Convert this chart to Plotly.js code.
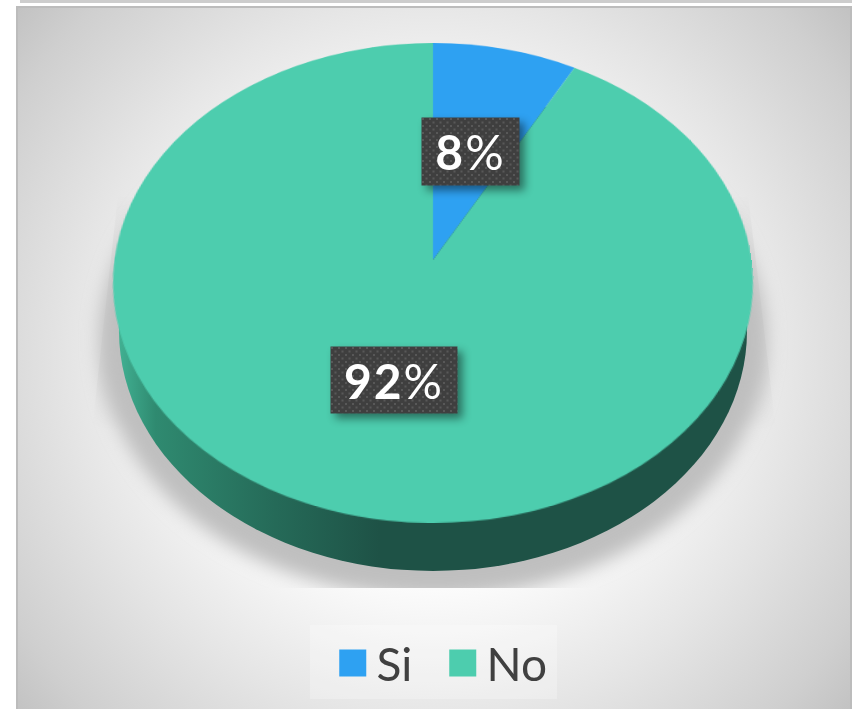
<!DOCTYPE html>
<html>
<head>
<meta charset="utf-8">
<script src="https://cdn.plot.ly/plotly-3.0.1.min.js"></script>
<style>
html,body{margin:0;padding:0;background:#fff;overflow:hidden;width:852px;height:709px}
#stage{position:relative;width:852px;height:709px;overflow:hidden}
#back,#plot{position:absolute;left:0;top:0;width:852px;height:709px}
</style>
</head>
<body>
<div id="stage">
<svg id="back" width="852" height="709" xmlns="http://www.w3.org/2000/svg">
  <defs>
    <radialGradient id="bgGrad" gradientUnits="userSpaceOnUse" cx="433" cy="360" r="560">
      <stop offset="0.41" stop-color="#fbfbfb"/>
      <stop offset="0.65" stop-color="#e5e5e5"/>
      <stop offset="0.875" stop-color="#cfcfcf"/>
      <stop offset="0.975" stop-color="#c2c2c2"/>
    </radialGradient>
    <linearGradient id="sideGrad" gradientUnits="userSpaceOnUse" x1="119" y1="0" x2="380" y2="0">
      <stop offset="0" stop-color="#41b092"/>
      <stop offset="0.14" stop-color="#2f8a70"/>
      <stop offset="0.6" stop-color="#256a58"/>
      <stop offset="1" stop-color="#1e5246"/>
    </linearGradient>
    <linearGradient id="wallH" gradientUnits="userSpaceOnUse" x1="92" y1="0" x2="776" y2="0">
      <stop offset="0" stop-color="#000" stop-opacity="0.01"/>
      <stop offset="0.05" stop-color="#000" stop-opacity="0.14"/>
      <stop offset="0.95" stop-color="#000" stop-opacity="0.14"/>
      <stop offset="1" stop-color="#000" stop-opacity="0.01"/>
    </linearGradient>
    <linearGradient id="fadeV" gradientUnits="userSpaceOnUse" x1="0" y1="195" x2="0" y2="430">
      <stop offset="0" stop-color="#000"/>
      <stop offset="0.55" stop-color="#fff"/>
      <stop offset="0.75" stop-color="#fff"/>
      <stop offset="1" stop-color="#000"/>
    </linearGradient>
    <mask id="wallMask" maskUnits="userSpaceOnUse" x="0" y="0" width="852" height="709">
      <rect x="0" y="195" width="852" height="235" fill="url(#fadeV)"/>
    </mask>
    <filter id="blur" x="-20%" y="-20%" width="140%" height="140%"><feGaussianBlur stdDeviation="9"/></filter>
    <clipPath id="floor"><rect x="16" y="0" width="836" height="588"/></clipPath>
  </defs>
  <rect x="20" y="0" width="832" height="3" fill="#cdcdcd"/>
  <rect x="16" y="6" width="836" height="703" fill="url(#bgGrad)"/>
  <rect x="16" y="6" width="836" height="2" fill="#bcbcbc"/>
  <rect x="16" y="6" width="2" height="703" fill="#bcbcbc"/>
  <rect x="850" y="6" width="2" height="703" fill="#bcbcbc"/>
  <g clip-path="url(#floor)">
    <polygon points="118,195 748,195 776,430 92,430" fill="url(#wallH)" mask="url(#wallMask)"/>
    <ellipse cx="433" cy="340" rx="334" ry="258" fill="#bfbfbf" filter="url(#blur)"/>
  </g>
  <rect x="310" y="625" width="247" height="74" fill="#ffffff" fill-opacity="0.25"/>
  <ellipse cx="433" cy="331" rx="314" ry="240" fill="url(#sideGrad)"/>
</svg>
<div id="plot"></div>
</div>
<script>
var categories = ['Si', 'No'];
var values = [8, 92];
var sliceColors = ['#2ea1f2', '#4dcdae'];
var percentNumbers = ['8', '92'];

var W = 852, H = 709;
var data = [{
  type: 'pie',
  labels: categories,
  values: values,
  sort: false,
  direction: 'clockwise',
  rotation: 0,
  textinfo: 'none',
  hoverinfo: 'skip',
  marker: {colors: sliceColors, line: {width: 0}},
  domain: {x: [(433 - 240) / W, (433 + 240) / W], y: [(H - 523) / H, (H - 43) / H]}
}];
var layout = {
  width: W, height: H,
  margin: {l: 0, r: 0, t: 0, b: 0},
  paper_bgcolor: 'rgba(0,0,0,0)',
  plot_bgcolor: 'rgba(0,0,0,0)',
  showlegend: true,
  legend: {
    orientation: 'h', x: 329 / W, xanchor: 'left', y: 1 - 663 / H, yanchor: 'middle',
    itemwidth: 37.5, entrywidth: 57.5, entrywidthmode: 'pixels',
    font: {family: 'Lato, sans-serif', size: 46, color: '#404040'},
    bgcolor: 'rgba(0,0,0,0)', borderwidth: 0
  },
  annotations: [
    {num: percentNumbers[0], cx: 470.5, cy: 151.5, w: 97, h: 67},
    {num: percentNumbers[1], cx: 394, cy: 380, w: 126, h: 66}
  ].map(function (a) {
    return {
      xref: 'paper', yref: 'paper', x: a.cx / W, y: 1 - a.cy / H,
      xanchor: 'center', yanchor: 'middle', showarrow: false,
      text: '<b>' + a.num + '</b>%', width: a.w, height: a.h, borderpad: 0,
      align: 'center', valign: 'middle', bgcolor: '#3f3f3f',
      font: {family: 'Lato, sans-serif', size: 48, color: '#ffffff'}
    };
  })
};

Plotly.newPlot('plot', data, layout, {staticPlot: true, displayModeBar: false}).then(function (gd) {
  var NS = 'http://www.w3.org/2000/svg';
  // tilt the pie's svg: unit circle -> ellipse with the apex above its centre
  var pieSvg = gd.querySelector('.pielayer').closest('svg');
  var R = 240, cx = 433, cy = 283, apexY = 260;
  var k = -0.0958, a = 318.5, b = 237.8;
  var wy = k / R, w0 = 1 - k * cy / R;
  var m = [
    a / R, 0, 0, 0,
    cx * wy, apexY * wy + b / R, 0, wy,
    0, 0, 1, 0,
    cx * w0 - cx * a / R, apexY * w0 - cy * b / R, 0, w0
  ];
  pieSvg.style.transformOrigin = '0 0';
  pieSvg.style.transform = 'matrix3d(' + m.join(',') + ')';

  // dotted label fill and drop shadow
  var topSvg = gd.querySelector('.infolayer').closest('svg');
  var defs = document.createElementNS(NS, 'defs');
  var pat = document.createElementNS(NS, 'pattern');
  pat.setAttribute('id', 'dots');
  pat.setAttribute('patternUnits', 'userSpaceOnUse');
  pat.setAttribute('width', '7'); pat.setAttribute('height', '7');
  [['#3f3f3f', 0, 0, 7, 7], ['#585858', 1, 1, 2, 2], ['#585858', 4.5, 4.5, 2, 2]].forEach(function (p) {
    var r = document.createElementNS(NS, 'rect');
    r.setAttribute('fill', p[0]);
    r.setAttribute('x', p[1]); r.setAttribute('y', p[2]);
    r.setAttribute('width', p[3]); r.setAttribute('height', p[4]);
    pat.appendChild(r);
  });
  defs.appendChild(pat);
  topSvg.insertBefore(defs, topSvg.firstChild);
  gd.querySelectorAll('.annotation rect.bg').forEach(function (r) {
    r.style.fill = 'url(#dots)';
    r.style.filter = 'drop-shadow(5px 5px 4px rgba(0,0,0,0.45))';
  });
  gd.querySelectorAll('.annotation text').forEach(function (t) {
    t.style.letterSpacing = '2px';
  });

  // larger legend swatches
  gd.querySelectorAll('path.legendpie').forEach(function (p) {
    p.setAttribute('transform', (p.getAttribute('transform') || '') + ' scale(2.25)');
    p.style.strokeWidth = 0;
  });
});
</script>
</body>
</html>
